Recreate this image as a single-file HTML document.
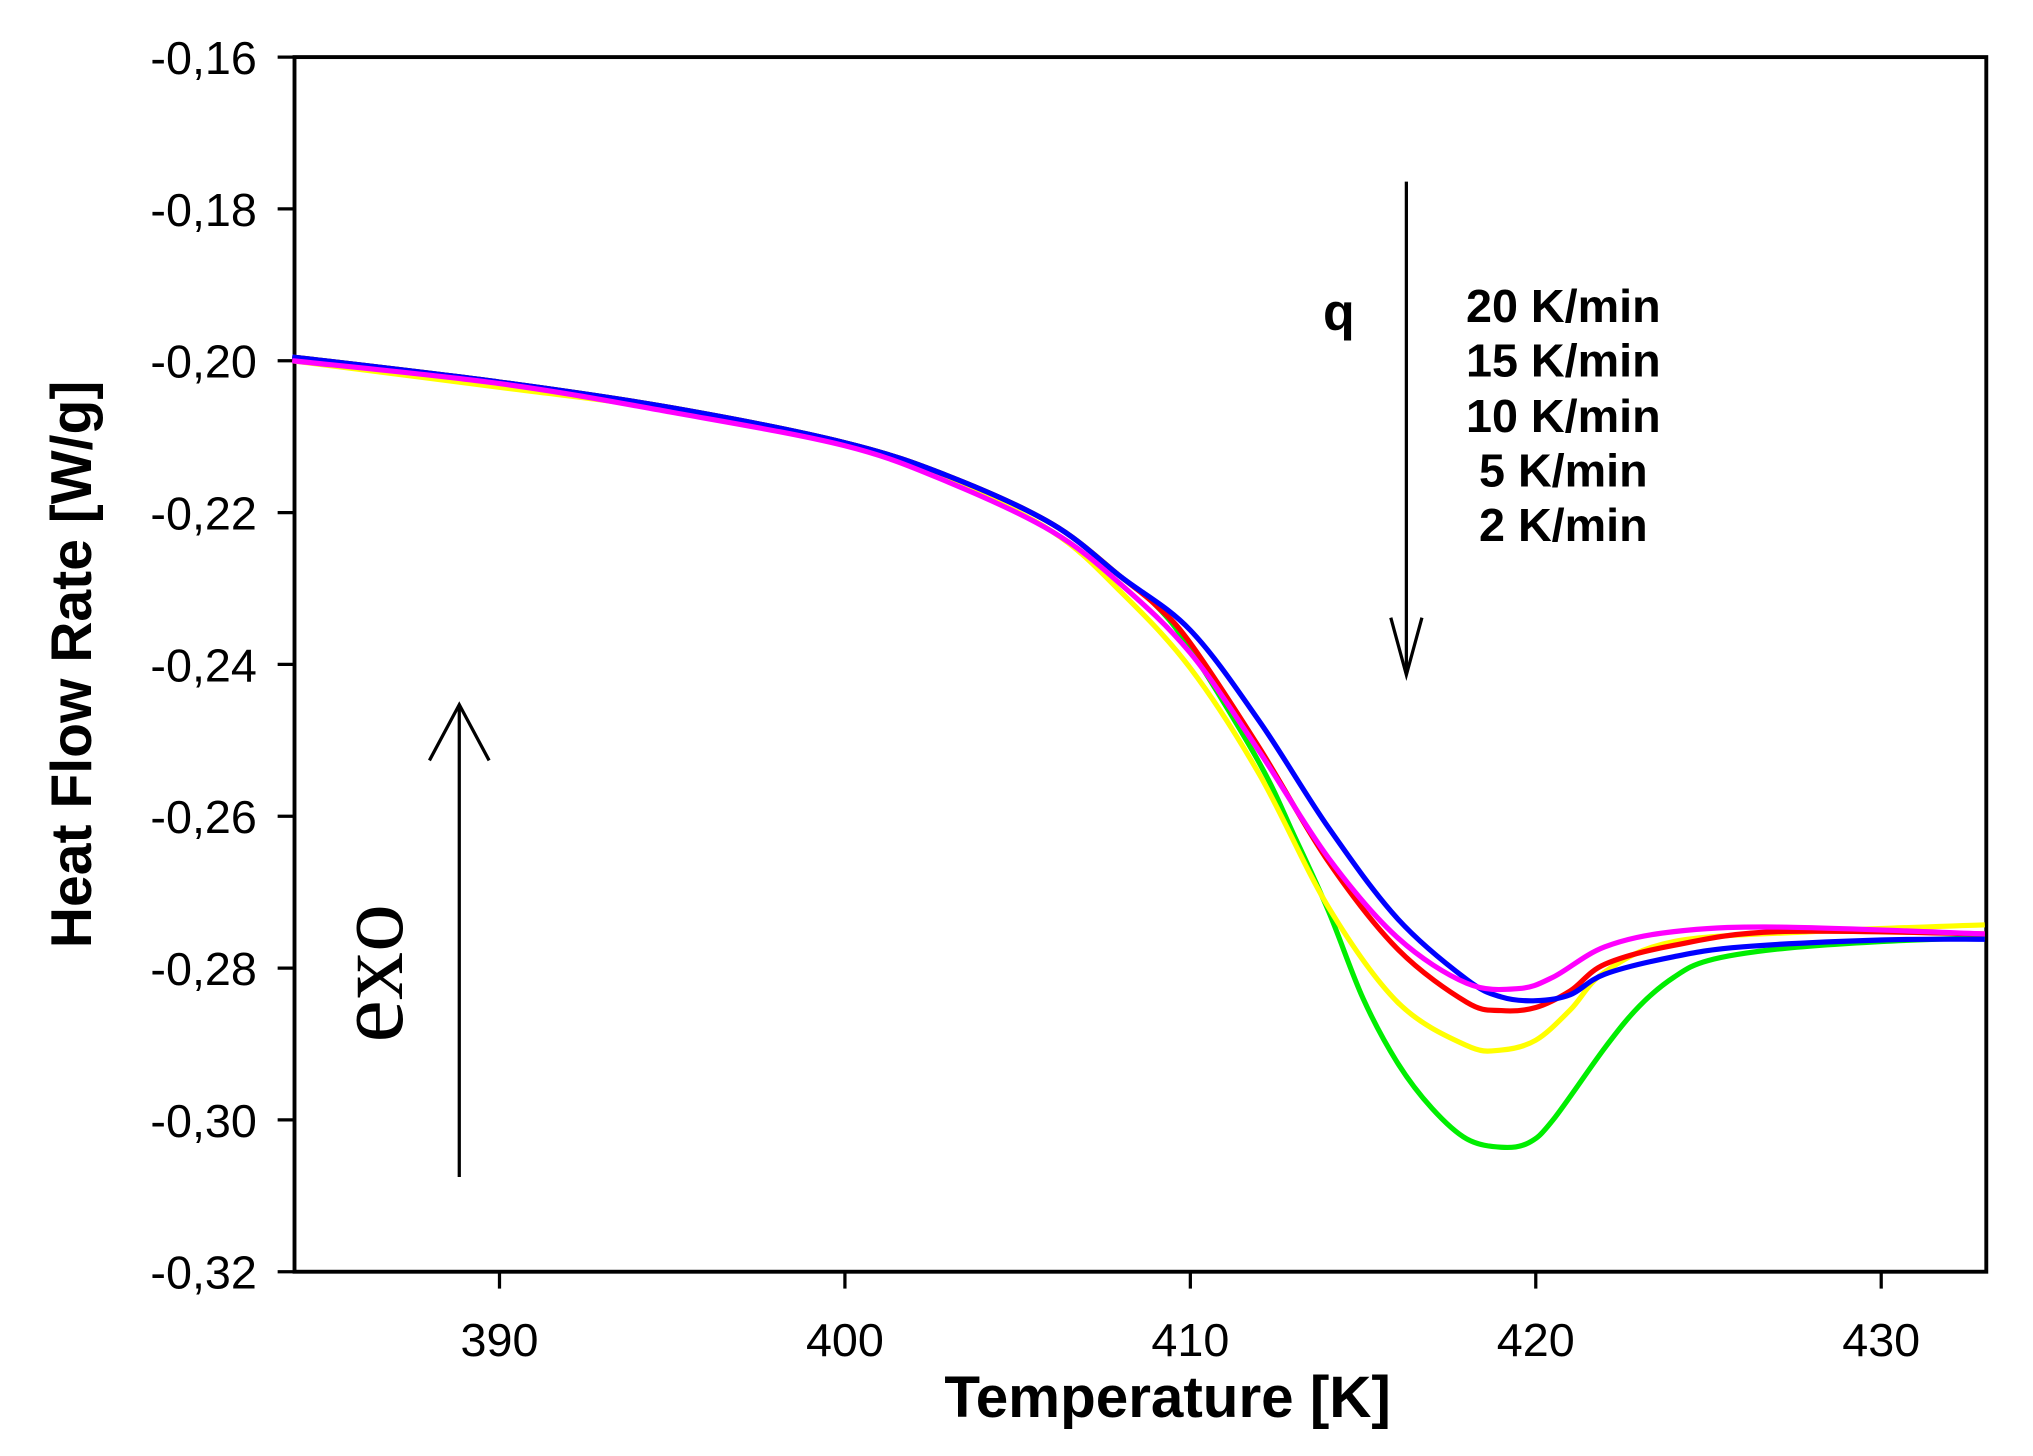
<!DOCTYPE html>
<html><head><meta charset="utf-8"><style>
html,body{margin:0;padding:0;background:#fff;}
svg{display:block;}
</style></head><body>
<svg id="s" width="2033" height="1456" viewBox="0 0 1567 1122" preserveAspectRatio="none" xmlns="http://www.w3.org/2000/svg" font-family="Liberation Sans, Arial, sans-serif">
<rect x="227" y="44" width="1304" height="936" fill="none" stroke="#000" stroke-width="3"/>
<g id="ticks" stroke="#000" stroke-width="2.5"></g>
<g id="labels" font-size="36" fill="#000"></g>
<g id="curves" fill="none" stroke-width="4" stroke-linejoin="round"></g>
<text x="900" y="1092" font-size="45" font-weight="bold" text-anchor="middle">Temperature [K]</text>
<text transform="translate(70,512) rotate(-90)" font-size="44" font-weight="bold" text-anchor="middle">Heat Flow Rate [W/g]</text>
<text transform="translate(310,750) rotate(-90)" font-size="74" font-family="Liberation Serif, serif" text-anchor="middle">exo</text>
<g stroke="#000" stroke-width="2.5" fill="none">
<line x1="354" y1="907" x2="354" y2="545"/>
<polyline points="331,586 354,543 377,586"/>
<line x1="1084" y1="140" x2="1084" y2="518"/>
<polyline points="1072,476 1084,520 1096,476"/>
</g>
<text x="1032" y="254" font-size="40" font-weight="bold" text-anchor="middle">q</text>
<g font-size="36" font-weight="bold" text-anchor="middle">
<text x="1205" y="248">20 K/min</text>
<text x="1205" y="290">15 K/min</text>
<text x="1205" y="333">10 K/min</text>
<text x="1205" y="375">5 K/min</text>
<text x="1205" y="417">2 K/min</text>
</g>
</svg>
<script>
var NS="http://www.w3.org/2000/svg";
function X(t){return 385+(t-390)*26.625;}
function Y(v){return 44+(-0.16-v)*5850;}
var tk=document.getElementById('ticks'),lb=document.getElementById('labels');
function el(p,tag,a,txt){var e=document.createElementNS(NS,tag);for(var k in a)e.setAttribute(k,a[k]);if(txt)e.textContent=txt;p.appendChild(e);}
for(var i=0;i<=8;i++){var v=-0.16-0.02*i,y=Y(v);
 el(tk,'line',{x1:214,x2:227,y1:y,y2:y});
 el(lb,'text',{x:198,y:y+13,'text-anchor':'end'},'-0,'+(16+2*i));}
for(var t=390;t<=430;t+=10){var x=X(t);
 el(tk,'line',{x1:x,x2:x,y1:980,y2:993});
 el(lb,'text',{x:x,y:1045,'text-anchor':'middle'},''+t);}
var base0=[[384,-0.1995],[390,-0.2028],[395,-0.2062],[400,-0.2108],[403,-0.2152],[406,-0.2215],[408,-0.2285]];
var base=base0.concat([[409,-0.2322]]);
var D={
'#00ee00':base.concat([[410,-0.2380],[412,-0.2530],[413,-0.2625],[414,-0.2725],[415,-0.2840],[416,-0.2925],[417,-0.2985],[418,-0.3025],[419,-0.3036],[419.8,-0.3030],[420.5,-0.3000],[422,-0.2905],[423,-0.2850],[424,-0.2812],[425,-0.2790],[427,-0.2775],[430,-0.2765],[433,-0.2760]]),
'#ffff00':[[384,-0.2],[390,-0.2035],[395,-0.2065],[400,-0.2110],[403,-0.2158],[406,-0.2225],[408,-0.2305],[410,-0.2405],[412,-0.2545],[414,-0.2720],[416,-0.2845],[418,-0.2902],[419,-0.2908],[420,-0.2895],[421,-0.2855],[422,-0.2805],[424,-0.2765],[428,-0.2752],[433,-0.2743]],
'#ff0000':base.concat([[410,-0.2372],[412,-0.2510],[414,-0.2660],[416,-0.2775],[418,-0.2845],[419,-0.2856],[420,-0.2852],[421,-0.2830],[422,-0.2795],[424,-0.2770],[427,-0.2752],[433,-0.2755]]),
'#0000ff':base0.concat([[410,-0.2355],[412,-0.2475],[414,-0.2615],[416,-0.2735],[418,-0.2815],[419,-0.2838],[420,-0.2843],[421,-0.2835],[422,-0.2808],[424,-0.2785],[426,-0.2772],[430,-0.2763],[433,-0.2762]]),
'#ff00ff':[[384,-0.2],[390,-0.2030],[395,-0.2068],[400,-0.2112],[403,-0.2160],[406,-0.2225],[408,-0.2295],[410,-0.2385],[412,-0.2515],[414,-0.2655],[416,-0.2760],[418,-0.2820],[419.5,-0.2827],[420.5,-0.2812],[422,-0.2772],[424,-0.2752],[427,-0.2746],[433,-0.2755]]
};
var cg=document.getElementById('curves');
for(var c in D){var p=D[c].map(function(q){return [X(q[0]),Y(q[1])];});
 var d='M'+p[0][0]+','+p[0][1];
 for(var i=0;i<p.length-1;i++){var p0=p[i-1]||p[i],p1=p[i],p2=p[i+1],p3=p[i+2]||p2;
  d+=' C'+(p1[0]+(p2[0]-p0[0])/6)+','+(p1[1]+(p2[1]-p0[1])/6)+' '+(p2[0]-(p3[0]-p1[0])/6)+','+(p2[1]-(p3[1]-p1[1])/6)+' '+p2[0]+','+p2[1];}
 el(cg,'path',{d:d,stroke:c});}
</script>
</body></html>
